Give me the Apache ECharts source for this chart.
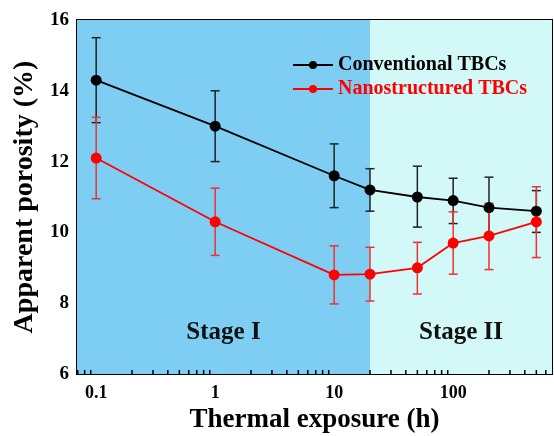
<!DOCTYPE html>
<html>
<head>
<meta charset="utf-8">
<script src="https://cdn.jsdelivr.net/npm/echarts@6/dist/echarts.min.js"></script>
<style>
  html, body { margin: 0; padding: 0; background: #fff; }
  #chart { width: 554px; height: 436px; }
</style>
</head>
<body>
<div id="chart"></div>
<script>
// thermal exposure time (h)
var hours = [0.1, 1, 10, 20, 50, 100, 200, 500];

// conventional TBCs
var convPorosity = [14.3, 13.0, 11.6, 11.2, 11.0, 10.9, 10.7, 10.6];
var convLow      = [13.1, 12.0, 10.7, 10.6, 10.15, 10.25, 9.85, 10.0];
var convHigh     = [15.5, 14.0, 12.5, 11.8, 11.87, 11.53, 11.56, 11.18];

// nanostructured TBCs
var nanoPorosity = [12.1, 10.3, 8.8, 8.82, 9.0, 9.7, 9.9, 10.3];
var nanoLow      = [10.95, 9.35, 7.98, 8.06, 8.26, 8.82, 8.95, 9.29];
var nanoHigh     = [13.25, 11.25, 9.62, 9.58, 9.72, 10.58, 10.82, 11.29];

var xTickLabels = ['0.1', '1', '10', '100'];
var xMinorTicks = [0.07, 0.08, 0.09, 0.2, 0.3, 0.4, 0.5, 0.6, 0.7, 0.8, 0.9,
                   2, 3, 4, 5, 6, 7, 8, 9, 20, 30, 40, 50, 60, 70, 80, 90,
                   200, 300, 400, 500, 600];
var stageBreak = 20;

var font = "'Liberation Serif', 'Times New Roman', serif";

function zip(xs, a, b) {
  return xs.map(function (x, i) { return b ? [x, a[i], b[i]] : [x, a[i]]; });
}

function errorBars(color) {
  return function (params, api) {
    var x = api.value(0);
    var lo = api.coord([x, api.value(1)]);
    var hi = api.coord([x, api.value(2)]);
    var hw = 4.5;
    var st = { stroke: color, lineWidth: 1.5 };
    return {
      type: 'group',
      children: [
        { type: 'line', shape: { x1: lo[0], y1: lo[1], x2: hi[0], y2: hi[1] }, style: st },
        { type: 'line', shape: { x1: lo[0] - hw, y1: lo[1], x2: lo[0] + hw, y2: lo[1] }, style: st },
        { type: 'line', shape: { x1: hi[0] - hw, y1: hi[1], x2: hi[0] + hw, y2: hi[1] }, style: st }
      ]
    };
  };
}

var chart = echarts.init(document.getElementById('chart'));

var option = {
  animation: false,
  grid: {
    left: 77, right: 2, top: 20, bottom: 62,
    outerBoundsMode: 'none',
    show: true, borderColor: '#000', borderWidth: 2, backgroundColor: 'transparent'
  },
  legend: {
    left: 287, top: 50, orient: 'vertical',
    itemWidth: 40, itemHeight: 10, itemGap: 4,
    textStyle: { fontFamily: font, fontWeight: 'bold', fontSize: 20 },
    data: [
      { name: 'Conventional TBCs', textStyle: { color: '#000' } },
      { name: 'Nanostructured TBCs', textStyle: { color: '#ff0000' } }
    ]
  },
  xAxis: {
    type: 'log', logBase: 10, min: 0.069, max: 677,
    name: 'Thermal exposure (h)', nameLocation: 'middle', nameGap: 32,
    nameTextStyle: { fontFamily: font, fontWeight: 'bold', fontSize: 27, color: '#000' },
    axisLine: { lineStyle: { color: '#000', width: 2 } },
    axisTick: { inside: true, length: 7, lineStyle: { color: '#000', width: 1.5 } },
    splitLine: { show: false },
    axisLabel: {
      fontFamily: font, fontWeight: 'bold', fontSize: 18, color: '#000', margin: 10,
      formatter: function (v) {
        var s = String(+v.toPrecision(6));
        return xTickLabels.indexOf(s) >= 0 ? s : '';
      }
    }
  },
  yAxis: {
    type: 'value', min: 6, max: 16, interval: 2,
    name: 'Apparent porosity (%)', nameLocation: 'middle', nameGap: 38,
    nameTextStyle: { fontFamily: font, fontWeight: 'bold', fontSize: 28, color: '#000' },
    axisLine: { show: true, lineStyle: { color: '#000', width: 2 } },
    axisTick: { inside: true, length: 6, lineStyle: { color: '#000', width: 1.5 } },
    minorTick: { show: true, splitNumber: 2, length: 6, lineStyle: { color: '#000', width: 1.5 } },
    splitLine: { show: false },
    axisLabel: { fontFamily: font, fontWeight: 'bold', fontSize: 19, color: '#000', margin: 8 }
  },
  series: [
    {
      name: 'stages', type: 'line', data: [], silent: true,
      markArea: {
        silent: true,
        label: {
          position: 'insideBottom', distance: 29,
          fontFamily: font, fontWeight: 'bold', fontSize: 25, color: '#111'
        },
        data: [
          [{ name: 'Stage I', xAxis: 0.069, itemStyle: { color: '#7ecef4' } }, { xAxis: stageBreak }],
          [{ name: 'Stage II', xAxis: stageBreak, itemStyle: { color: '#d3f8f8' } }, { xAxis: 677 }]
        ]
      }
    },
    {
      name: 'minorTicks', type: 'custom', silent: true, z: 5,
      data: xMinorTicks.map(function (v) { return [v, 6]; }),
      renderItem: function (params, api) {
        var p = api.coord([api.value(0), 6]);
        return { type: 'line', shape: { x1: p[0], y1: p[1], x2: p[0], y2: p[1] - 4 },
                 style: { stroke: '#000', lineWidth: 1.5 } };
      }
    },
    {
      name: 'convErr', type: 'custom', z: 2, silent: true,
      data: zip(hours, convLow, convHigh),
      encode: { x: 0, y: [1, 2] },
      renderItem: errorBars('#222')
    },
    {
      name: 'nanoErr', type: 'custom', z: 2, silent: true,
      data: zip(hours, nanoLow, nanoHigh),
      encode: { x: 0, y: [1, 2] },
      renderItem: errorBars('#f03030')
    },
    {
      name: 'Conventional TBCs', type: 'line', z: 3,
      data: zip(hours, convPorosity),
      symbol: 'circle', symbolSize: 11,
      lineStyle: { color: '#000', width: 1.8 },
      itemStyle: { color: '#000' }
    },
    {
      name: 'Nanostructured TBCs', type: 'line', z: 3,
      data: zip(hours, nanoPorosity),
      symbol: 'circle', symbolSize: 11,
      lineStyle: { color: '#ff0000', width: 1.8 },
      itemStyle: { color: '#ff0000' }
    }
  ]
};

chart.setOption(option);
</script>
</body>
</html>
